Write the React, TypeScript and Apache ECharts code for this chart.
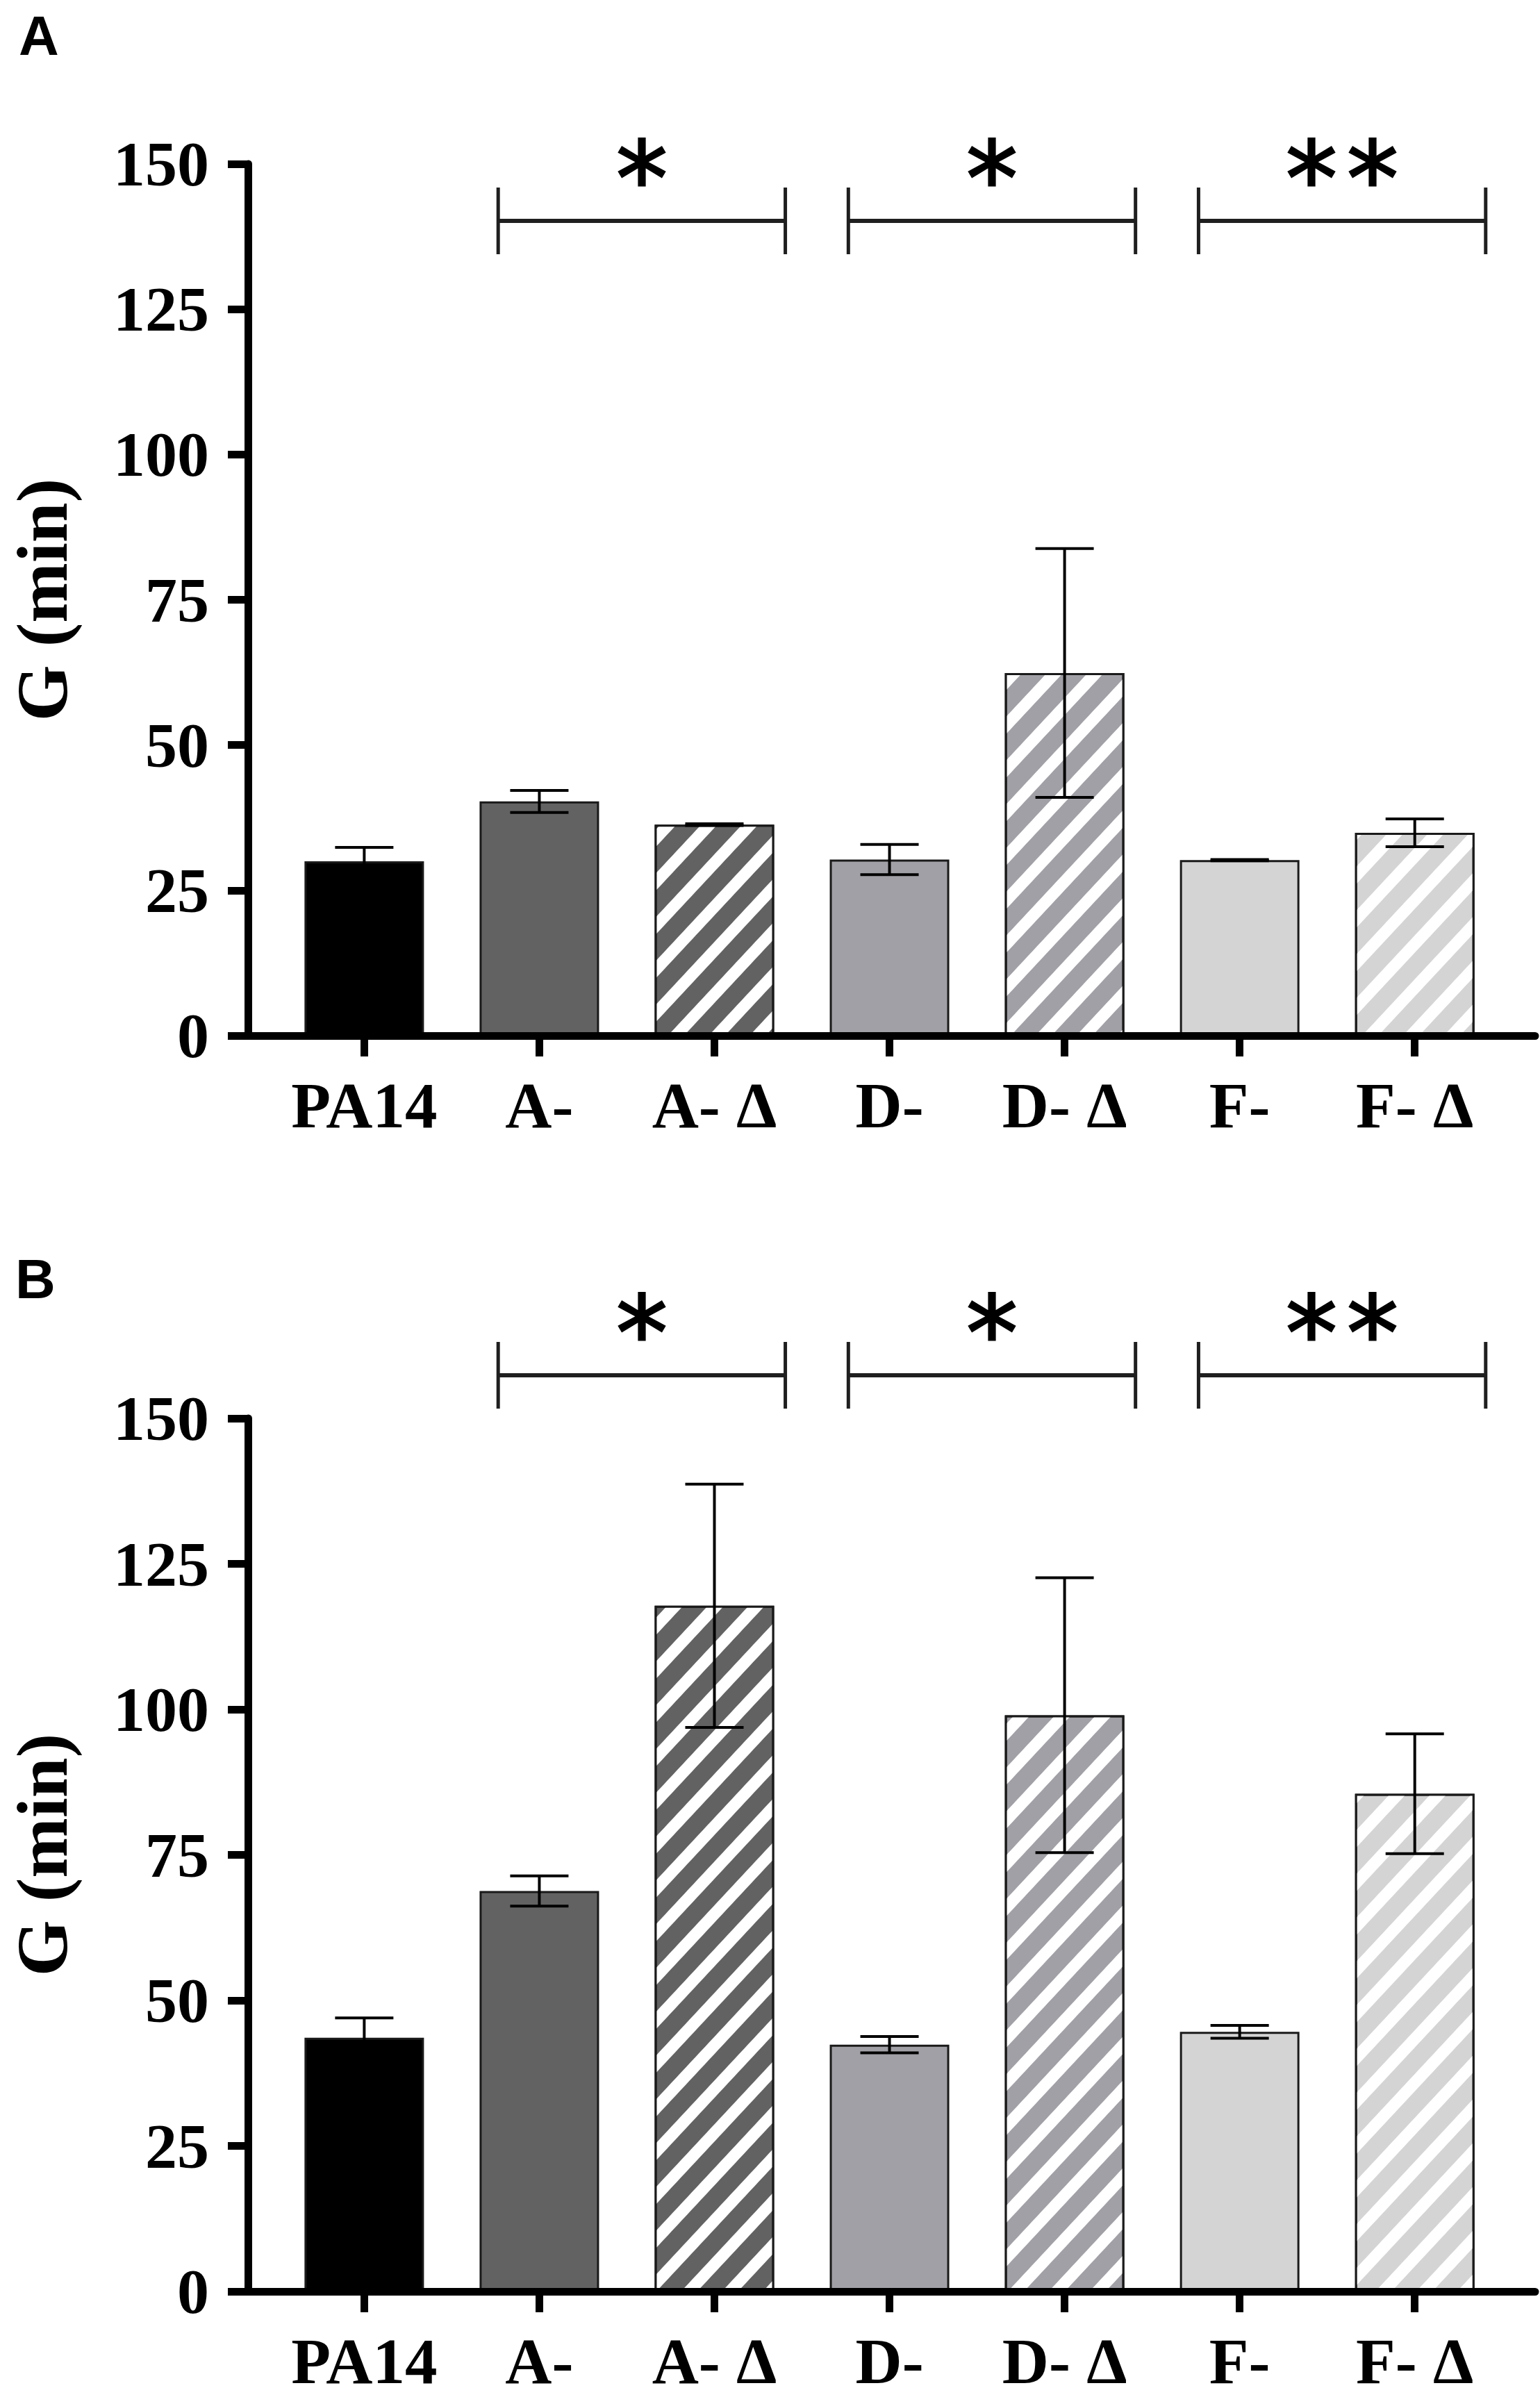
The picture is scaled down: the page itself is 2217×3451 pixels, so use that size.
import React, { useEffect, useRef } from "react";
import * as echarts from "echarts";

const categories = ["PA14", "A-", "A- Δ", "D-", "D- Δ", "F-", "F- Δ"];
const meansA = [30.0, 40.3, 36.3, 30.3, 62.4, 30.2, 34.9];
const errorsA = [2.4, 1.9, 0.15, 2.6, 21.4, 0.1, 2.4];
const meansB = [43.6, 68.8, 117.8, 42.4, 99.0, 44.6, 85.5];
const errorsB = [3.4, 2.6, 20.9, 1.4, 23.6, 1.1, 10.3];
const yTicks = [0, 25, 50, 75, 100, 125, 150];
// significance brackets: [first category index, last category index, number of stars]
const brackets = [
  [1, 2, 1],
  [3, 4, 1],
  [5, 6, 2],
];
const bracketLevels = [140.2, 157.4];
const panelLabels = ["A", "B"];
const yTitle = "G (min)";

const barColors = ["#000000", "#626262", "#626262", "#a0a0a6", "#a0a0a6", "#d4d4d4", "#d4d4d4"];
const hatched = [false, false, true, false, true, false, true];

const SERIF = "Liberation Serif";

function barData(means: number[]) {
  return means.map((m, i) => ({
    value: [i, m],
    itemStyle: {
      color: barColors[i],
      borderColor: "#1a1a1a",
      borderWidth: 3,
      decal: hatched[i]
        ? {
            symbol: "rect",
            symbolSize: 1,
            color: "#ffffff",
            dashArrayX: [1, 0],
            dashArrayY: [17, 26],
            rotation: (-47 * Math.PI) / 180,
          }
        : "none",
    },
  }));
}

function errData(means: number[], errs: number[]) {
  return means.map((m, i) => [i, m, errs[i]]);
}

const errRender = (params: any, api: any) => {
  const x = api.value(0);
  const m = api.value(1);
  const e = api.value(2);
  const top = api.coord([x, m + e]);
  const bot = api.coord([x, m - e]);
  const hw = 42;
  const st = { stroke: "#000", lineWidth: 4 };
  return {
    type: "group",
    children: [
      { type: "line", shape: { x1: top[0], y1: top[1], x2: bot[0], y2: bot[1] }, style: st },
      { type: "line", shape: { x1: top[0] - hw, y1: top[1], x2: top[0] + hw, y2: top[1] }, style: st },
      { type: "line", shape: { x1: bot[0] - hw, y1: bot[1], x2: bot[0] + hw, y2: bot[1] }, style: st },
    ],
  };
};

const bracketRender = (params: any, api: any) => {
  const s = api.value(0);
  const e = api.value(1);
  const n = api.value(2);
  const lvl = api.value(3);
  const p1 = api.coord([s - 0.235, lvl]);
  const p2 = api.coord([e + 0.405, lvl]);
  const st = { stroke: "#1f1f1f", lineWidth: 6 };
  const children: any[] = [
    { type: "line", shape: { x1: p1[0], y1: p1[1], x2: p2[0], y2: p2[1] }, style: st },
    { type: "line", shape: { x1: p1[0], y1: p1[1] - 48, x2: p1[0], y2: p1[1] + 48 }, style: { stroke: "#1f1f1f", lineWidth: 5 } },
    { type: "line", shape: { x1: p2[0], y1: p2[1] - 48, x2: p2[0], y2: p2[1] + 48 }, style: { stroke: "#1f1f1f", lineWidth: 5 } },
  ];
  const mid = (p1[0] + p2[0]) / 2;
  for (let k = 0; k < n; k++) {
    children.push({
      type: "text",
      x: mid + (k - (n - 1) / 2) * 88,
      y: p1[1] - 60,
      style: {
        text: "*",
        fontSize: 148,
        fontFamily: "DejaVu Sans",
        fontWeight: "normal",
        fill: "#000",
        stroke: "#000",
        lineWidth: 3,
        align: "center",
        verticalAlign: "middle",
      },
    });
  }
  return { type: "group", children };
};

function xAxisCfg(gridIndex: number) {
  return {
    type: "value",
    gridIndex,
    min: -0.664,
    max: 6.6875,
    z: 5,
    axisLine: { show: true, onZero: false, lineStyle: { color: "#000", width: 11 } },
    axisTick: {
      show: true,
      customValues: [0, 1, 2, 3, 4, 5, 6],
      length: 30,
      lineStyle: { color: "#000", width: 11 },
    },
    axisLabel: {
      customValues: [0, 1, 2, 3, 4, 5, 6],
      formatter: (v: number) => categories[Math.round(v)] ?? "",
      fontSize: 93,
      lineHeight: 70,
      fontFamily: SERIF,
      fontWeight: "bold",
      color: "#000",
      margin: 65,
    },
    splitLine: { show: false },
  };
}

function yAxisCfg(gridIndex: number) {
  return {
    type: "value",
    gridIndex,
    min: yTicks[0],
    max: yTicks[yTicks.length - 1],
    interval: 25,
    z: 5,
    name: yTitle,
    nameLocation: "middle",
    nameGap: 245,
    nameTextStyle: { fontSize: 104, fontFamily: SERIF, fontWeight: "bold", color: "#000" },
    axisLine: { show: true, onZero: false, lineStyle: { color: "#000", width: 11 } },
    axisTick: { show: true, length: 29, lineStyle: { color: "#000", width: 11 } },
    axisLabel: {
      fontSize: 92,
      fontFamily: SERIF,
      fontWeight: "bold",
      color: "#000",
      margin: 56,
    },
    splitLine: { show: false },
  };
}

export default function App() {
  const ref = useRef<HTMLDivElement>(null);
  useEffect(() => {
    if (!ref.current) return;
    const chart = echarts.init(ref.current, undefined, { renderer: "svg" });
    const allMeans = [meansA, meansB];
    const allErrs = [errorsA, errorsB];
    const series: any[] = [];
    [0, 1].forEach((g) => {
      series.push({
        type: "bar",
        xAxisIndex: g,
        yAxisIndex: g,
        barWidth: 172,
        data: barData(allMeans[g]),
        z: 2,
      });
      series.push({
        type: "custom",
        xAxisIndex: g,
        yAxisIndex: g,
        renderItem: errRender,
        encode: { x: 0, y: 1 },
        data: errData(allMeans[g], allErrs[g]),
        clip: false,
        z: 6,
      });
      series.push({
        type: "custom",
        xAxisIndex: g,
        yAxisIndex: g,
        renderItem: bracketRender,
        encode: { x: [0, 1], y: 3 },
        data: brackets.map((b) => [b[0], b[1], b[2], bracketLevels[g]]),
        clip: false,
        z: 6,
      });
    });
    chart.setOption({
      animation: false,
      backgroundColor: "#ffffff",
      title: [
        {
          text: panelLabels[0],
          left: 22,
          top: 6,
          textStyle: { fontSize: 80, fontFamily: "Liberation Sans", fontWeight: "bold", color: "#000" },
        },
        {
          text: panelLabels[1],
          left: 17,
          top: 1796,
          textStyle: { fontSize: 80, fontFamily: "Liberation Sans", fontWeight: "bold", color: "#000" },
        },
      ],
      grid: [
        { left: 329, top: 236, width: 1881, height: 1255 },
        { left: 329, top: 2042, width: 1881, height: 1257 },
      ],
      xAxis: [xAxisCfg(0), xAxisCfg(1)],
      yAxis: [yAxisCfg(0), yAxisCfg(1)],
      series,
    });
    return () => chart.dispose();
  }, []);
  return (
    <div
      ref={ref}
      style={{ position: "absolute", left: 0, top: 0, width: 2217, height: 3451, background: "#fff" }}
    />
  );
}
